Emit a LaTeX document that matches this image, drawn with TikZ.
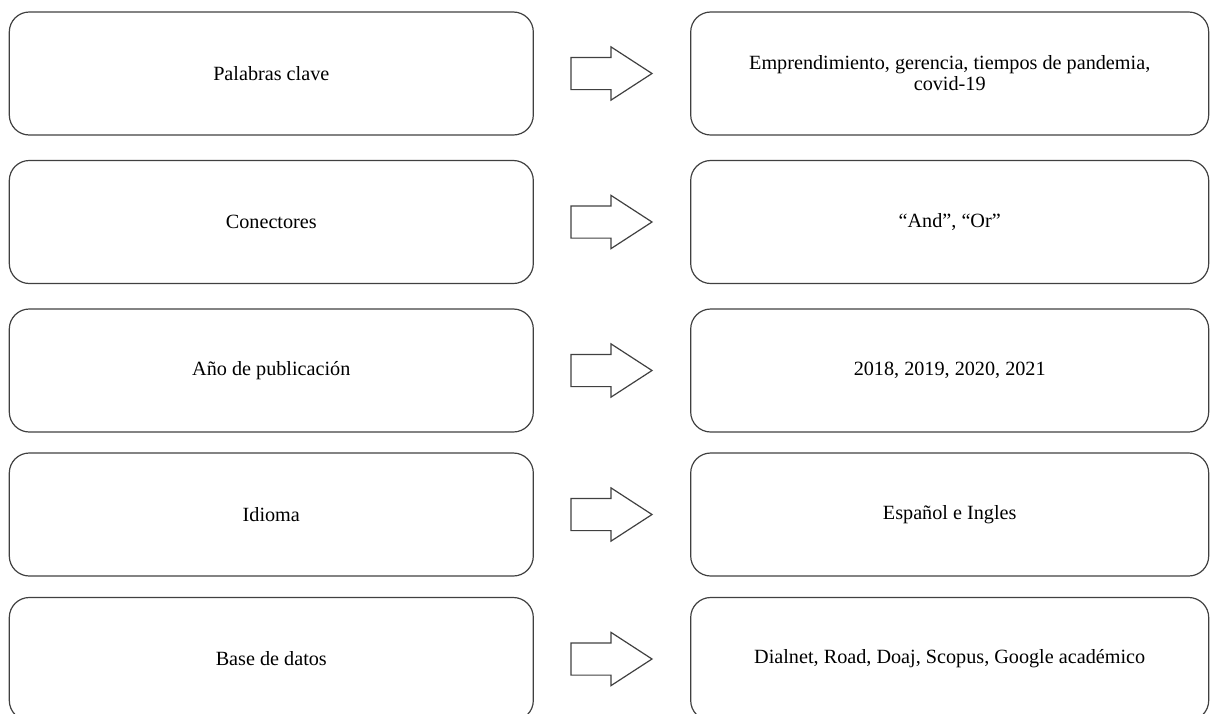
\documentclass[tikz,border=0pt]{standalone}
\usepackage{fontspec}
\setmainfont{Liberation Serif}
\usepackage{tikz}
\usetikzlibrary{positioning}
\usetikzlibrary{shapes.arrows}

\begin{document}
\begin{tikzpicture}[node distance=25.5pt,
  box node/.style={draw=black!75,line width=1.2pt,rounded corners=20pt,minimum width=524pt,minimum height=123pt,inner sep=0pt,outer sep=0pt,align=center,font=\fontsize{20.2}{21}\selectfont},
  res node/.style={box node,minimum width=518pt},
  arrow node/.style={draw=black!75,line width=1.2pt,single arrow,minimum width=52pt,minimum height=81pt,single arrow head extend=10.5pt,single arrow tip angle=66,inner xsep=0pt,inner ysep=15.5pt,outer sep=0pt}]
  \path[use as bounding box,clip] (0,0) rectangle (1210pt,-713pt);
  % criterios
  \node[box node] (l1) at (271.3pt,-73.5pt) {Palabras clave};
  \node[box node] (l2) [below=of l1] {Conectores};
  \node[box node] (l3) [below=of l2] {Año de publicación};
  \node[box node] (l4) [below=21pt of l3] {Idioma};
  \node[box node] (l5) [below=21.5pt of l4] {Base de datos};
  % valores
  \node[res node] (r1) [right=157.4pt of l1] {Emprendimiento, gerencia, tiempos de pandemia,\\covid-19};
  \node[res node] (r2) [right=157.4pt of l2] {“And”, “Or”};
  \node[res node] (r3) [right=157.4pt of l3] {2018, 2019, 2020, 2021};
  \node[res node] (r4) [right=157.4pt of l4] {Español e Ingles};
  \node[res node] (r5) [right=157.4pt of l5] {Dialnet, Road, Doaj, Scopus, Google académico};
  \foreach \i in {1,...,5}
    \node[arrow node] (a\i) [right=37.7pt of l\i] {};
\end{tikzpicture}
\end{document}
